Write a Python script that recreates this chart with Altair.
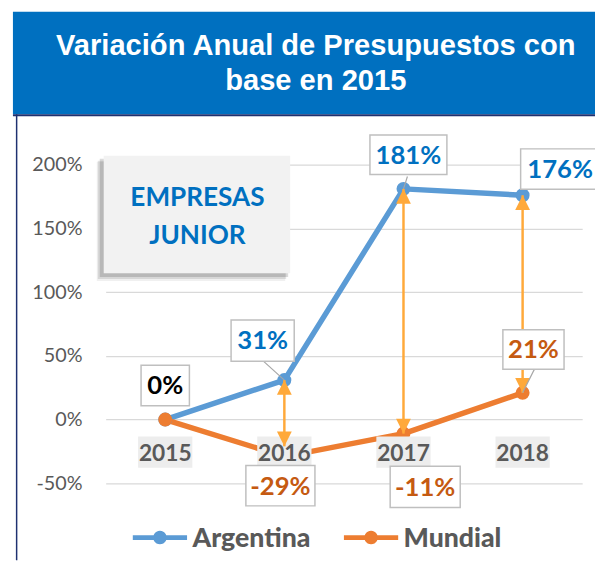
import math
import altair as alt
import pandas as pd

# ---------------- data ----------------
years = ["2015", "2016", "2017", "2018"]
argentina = [0.0, 0.31, 1.81, 1.76]
mundial = [0.0, -0.29, -0.11, 0.21]
arrow_years = ["2016", "2017", "2018"]
arrow_top = [0.31, 1.81, 1.76]
arrow_bottom = [-0.21, -0.11, 0.21]
y_ticks = [-0.5, 0.0, 0.5, 1.0, 1.5, 2.0]
series_names = ["Argentina", "Mundial"]
series_colors = ["#5B9BD5", "#ED7D31"]
title_lines = ["Variación Anual de Presupuestos con", "base en 2015"]
badge_lines = ["EMPRESAS", "JUNIOR"]

# ---------------- styling ----------------
W, H = 483, 323
PAD = {"left": 99, "top": 155, "right": 13, "bottom": 78}
BLUE_TXT = "#0070C0"
ORANGE_TXT = "#C55A11"
ARROW = "#FFA93A"
GRAY_TXT = "#595959"

xscale = alt.Scale(type="point", domain=years, padding=0.5)
yscale = alt.Scale(domain=[-0.5, 2.0], nice=False, zero=False)
cscale = alt.Scale(domain=series_names, range=series_colors)
yaxis = alt.Axis(
    values=y_ticks, format=".0%", title=None, grid=True, gridColor="#D9D9D9",
    gridWidth=1.3, domain=False, ticks=False, labelPadding=24,
    labelFont="Lato", labelFontSize=20, labelColor=GRAY_TXT,
    labelExpr="replace(datum.label, '\u2212', '-')",
)

def X(field="year"):
    return alt.X(f"{field}:N", scale=xscale, axis=None)

def Y(field="value"):
    return alt.Y(f"{field}:Q", scale=yscale, axis=yaxis)

one = pd.DataFrame({"k": [0]})

def deco_rect(x, x2, y, y2, color, opacity=1.0):
    return alt.Chart(one).mark_rect(color=color, opacity=opacity).encode(
        x=alt.value(x), x2=alt.value(x2), y=alt.value(y), y2=alt.value(y2))

def deco_text(txt, x, y, size, color, font, weight="bold"):
    return alt.Chart(one).mark_text(
        font=font, fontSize=size, fontWeight=weight, color=color,
        align="center", baseline="alphabetic").encode(
        x=alt.value(x), y=alt.value(y), text=alt.value(txt))

# ---------------- decorations ----------------
header = deco_rect(-94, 496, -155, -51, "#0070C0")
header_line = deco_rect(-94, 496, -51, -49, "#1F3170")
left_line = deco_rect(-91, -89.5, -51, 401, "#1F3170")
title1 = deco_text(title_lines[0], 213, -111, 29.5, "white", "Liberation Sans")
title2 = deco_text(title_lines[1], 213, -76, 29.5, "white", "Liberation Sans")

shadow1 = deco_rect(-9, 182, -3, 118, "#000000", 0.06)
shadow2 = deco_rect(-8, 183, -4, 116, "#000000", 0.10)
shadow3 = deco_rect(-6, 185, -6, 114, "#000000", 0.14)
badge = deco_rect(-2, 187, -9, 110, "#F2F2F2")
badge1 = deco_text(badge_lines[0], 93, 42, 26.5, BLUE_TXT, "Lato")
badge2 = deco_text(badge_lines[1], 93, 80, 26.5, BLUE_TXT, "Lato")

# ---------------- data layers ----------------
lines_df = pd.DataFrame({
    "year": years * 2,
    "value": argentina + mundial,
    "series": [series_names[0]] * len(years) + [series_names[1]] * len(years),
})

grid_layer = alt.Chart(pd.DataFrame({"value": y_ticks})).mark_point(opacity=0).encode(y=Y())

line_layer = alt.Chart(lines_df).mark_line(strokeWidth=5.5, strokeCap="round",
                                           strokeJoin="round").encode(
    x=X(), y=Y(), color=alt.Color("series:N", scale=cscale, legend=None),
    detail="series:N")

point_layer = alt.Chart(lines_df).mark_point(filled=True, size=200, opacity=1).encode(
    x=X(), y=Y(), color=alt.Color("series:N", scale=cscale, legend=None))

# legend (drawn as marks; symbol = bar + dot)
circ = " ".join(
    ("M" if k == 0 else "L") + f"{0.25 * math.cos(2 * math.pi * k / 24):.4f},"
    f"{0.25 * math.sin(2 * math.pi * k / 24):.4f}" for k in range(24)) + "Z"
legend_path = "M-1,-0.09L1,-0.09L1,0.09L-1,0.09Z " + circ
legend_layers = []
for name, sx, tx in zip(series_names, [55, 269], [88, 302]):
    d = pd.DataFrame({"series": [name]})
    legend_layers.append(alt.Chart(d).mark_point(
        shape=legend_path, size=3025, filled=True, opacity=1, strokeWidth=0).encode(
        x=alt.value(sx), y=alt.value(378),
        color=alt.Color("series:N", scale=cscale, legend=None)))
    legend_layers.append(alt.Chart(d).mark_text(
        font="Lato", fontSize=27, fontWeight=900, color=GRAY_TXT,
        align="left", baseline="alphabetic").encode(
        x=alt.value(tx), y=alt.value(388), text="series:N"))

# category labels with grey background
cat_df = pd.DataFrame({"year": years, "value": [0.0] * len(years)})
cat_bg = alt.Chart(cat_df).mark_point(
    shape="M-1,-0.58H1V0.58H-1Z", size=3025, filled=True, fill="#EDEDED",
    opacity=1, strokeWidth=0, yOffset=33).encode(x=X(), y=Y())
cat_txt = alt.Chart(cat_df).mark_text(
    font="Lato", fontSize=23, fontWeight="bold", color=GRAY_TXT,
    baseline="middle", dy=35).encode(x=X(), y=Y(), text="year:N")

# arrows
arrow_df = pd.DataFrame({"year": arrow_years, "top": arrow_top, "bottom": arrow_bottom})
arrow_shaft = alt.Chart(arrow_df).mark_rule(color=ARROW, strokeWidth=2.5).encode(
    x=X(), y=Y("top"), y2="bottom:Q")
arrow_up = alt.Chart(arrow_df).mark_point(
    shape="M0,0L1,2L-1,2Z", size=225, filled=True, fill=ARROW, opacity=1,
    strokeWidth=0).encode(x=X(), y=Y("top"))
arrow_down = alt.Chart(arrow_df).mark_point(
    shape="M0,0L1,-2L-1,-2Z", size=225, filled=True, fill=ARROW, opacity=1,
    strokeWidth=0).encode(x=X(), y=Y("bottom"))

# data labels: (series, index, dx, dy, box w, box h, colour)
label_specs = [
    ("Argentina", 0, 0, -34.5, 49, 41, "#000000"),
    ("Argentina", 1, -22, -40, 64, 42, BLUE_TXT),
    ("Argentina", 2, 5, -34.5, 78, 40, BLUE_TXT),
    ("Argentina", 3, 38, -26.5, 80, 41, BLUE_TXT),
    ("Mundial", 1, -4, 29.5, 70, 41, ORANGE_TXT),
    ("Mundial", 2, 22, 54, 71, 42, ORANGE_TXT),
    ("Mundial", 3, 11, -44, 62, 40, ORANGE_TXT),
]
leaders = [  # (series, index, path, size)
    ("Argentina", 1, "M0,0L-1,-0.905", 1764),
    ("Argentina", 2, "M0,0L0.32,-1", 625),
    ("Mundial", 3, "M0,0L0.5,-1", 2304),
]

label_layers = []
for s, i, p, sz in leaders:
    v = argentina[i] if s == "Argentina" else mundial[i]
    d = pd.DataFrame({"year": [years[i]], "value": [v]})
    label_layers.append(alt.Chart(d).mark_point(
        shape=p, size=sz, filled=False, stroke="#A6A6A6", strokeWidth=1.2,
        opacity=1).encode(x=X(), y=Y()))

for s, i, dx, dy, w, h, col in label_specs:
    v = argentina[i] if s == "Argentina" else mundial[i]
    d = pd.DataFrame({"year": [years[i]], "value": [v],
                      "label": [f"{round(v * 100)}%"]})
    r = (h / 2) / (w / 2)
    box = alt.Chart(d).mark_point(
        shape=f"M-1,-{r:.4f}H1V{r:.4f}H-1Z", size=w * w, filled=True,
        fill="white", stroke="#BFBFBF", strokeWidth=1.5, opacity=1,
        xOffset=dx, yOffset=dy).encode(x=X(), y=Y())
    txt = alt.Chart(d).mark_text(
        font="Lato", fontSize=26, fontWeight="bold", color=col,
        baseline="middle", dx=dx, dy=dy + 1).encode(x=X(), y=Y(), text="label:N")
    label_layers += [box, txt]

chart = alt.layer(
    header, header_line, left_line, title1, title2,
    grid_layer,
    shadow1, shadow2, shadow3, badge, badge1, badge2,
    line_layer, point_layer,
    cat_bg, cat_txt,
    arrow_shaft, arrow_up, arrow_down,
    *label_layers,
    *legend_layers,
).properties(
    width=W, height=H, padding=PAD,
    autosize=alt.AutoSizeParams(type="none"),
    background="white",
).configure_view(stroke=None)

chart.save("out.html", embed_options={"renderer": "svg", "actions": False})
